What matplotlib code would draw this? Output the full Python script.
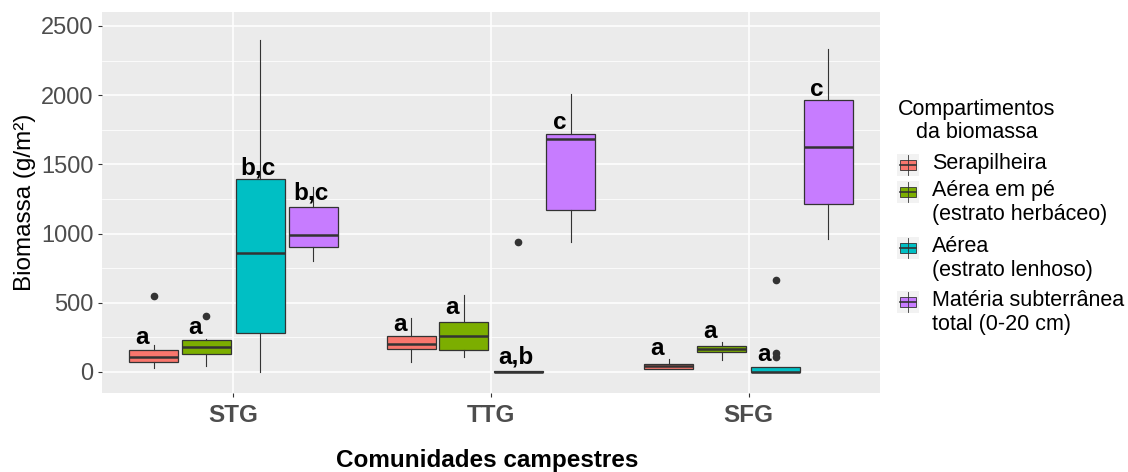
import numpy as np
import matplotlib
matplotlib.use("Agg")
import matplotlib.pyplot as plt
from matplotlib.patches import Rectangle

plt.rcParams['font.family'] = ['Liberation Sans', 'DejaVu Sans']

groups = ["STG", "TTG", "SFG"]
compartments = ["Serapilheira", "Aérea em pé\n(estrato herbáceo)",
                "Aérea\n(estrato lenhoso)", "Matéria subterrânea\ntotal (0-20 cm)"]
colors = ["#F8766D", "#7CAE00", "#00BFC4", "#C77CFF"]

# one row per compartment, columns STG, TTG, SFG
med = [[106, 200, 41], [178, 262, 164], [857, 2, 3], [990, 1681, 1628]]
q1 = [[70, 168, 24], [128, 159, 145], [279, 0, 0], [903, 1171, 1214]]
q3 = [[159, 260, 58], [229, 364, 190], [1394, 8, 34], [1195, 1720, 1965]]
whislo = [[27, 75, 20], [46, 111, 87], [0, 0, 0], [802, 937, 961]]
whishi = [[195, 388, 94], [236, 554, 215], [2399, 8, 34], [1339, 2011, 2336]]
fliers = [[[551], [], []], [[402], [], []], [[], [942], [663, 140, 110]], [[], [], []]]
letters = [["a", "a", "a"], ["a", "a", "a"], ["b,c", "a,b", "a"], ["b,c", "c", "c"]]
letter_y = [[246, 340, 171], [318, 465, 291], [1474, 111, 123], [1295, 1804, 2043]]

W, H = 1128, 472
fig = plt.figure(figsize=(W / 100, H / 100), dpi=100)
ax = fig.add_axes([102 / W, (H - 393) / H, (880 - 102) / W, (393 - 12) / H])
ax.set_facecolor("#EBEBEB")
for s in ax.spines.values():
    s.set_visible(False)

offsets = [-0.31, -0.105, 0.105, 0.31]
edge = "#333333"
for j in range(4):
    stats = []
    for i in range(3):
        stats.append(dict(med=med[j][i], q1=q1[j][i], q3=q3[j][i],
                          whislo=whislo[j][i], whishi=whishi[j][i],
                          fliers=fliers[j][i], label=""))
    pos = [i + 1 + offsets[j] for i in range(3)]
    ax.bxp(stats, positions=pos, widths=0.19, patch_artist=True, showcaps=False,
           boxprops=dict(facecolor=colors[j], edgecolor=edge, linewidth=0.9),
           whiskerprops=dict(color=edge, linewidth=0.8),
           medianprops=dict(color=edge, linewidth=1.8),
           flierprops=dict(marker="o", markerfacecolor=edge, markeredgecolor=edge,
                           markersize=4.5),
           manage_ticks=False, zorder=3)
    for i in range(3):
        lab = letters[j][i]
        dx = -0.045 if len(lab) == 1 else -0.01
        ax.text(i + 1 + offsets[j] + dx, letter_y[j][i], lab, ha="center", va="center",
                fontsize=17.5, fontweight="bold", color="black", zorder=4)

ax.set_xlim(0.49, 3.51)
ax.set_ylim(-152, 2601)
ax.set_xticks([1, 2, 3])
ax.set_xticklabels(groups, fontsize=17.5, fontweight="bold", color="#4D4D4D")
ax.set_yticks(np.arange(0, 2501, 500))
ax.set_yticklabels([str(v) for v in range(0, 2501, 500)], fontsize=17, color="#4D4D4D")
ax.set_yticks(np.arange(250, 2500, 500), minor=True)
ax.tick_params(axis="both", which="major", length=3, color=edge, width=0.8, pad=3)
ax.tick_params(axis="x", which="major", pad=5)
ax.tick_params(axis="y", which="minor", length=0)
ax.grid(which="major", color="white", linewidth=1.1)
ax.grid(which="minor", axis="y", color="white", linewidth=0.55)
ax.set_axisbelow(True)

fig.text(487 / W, 1 - 461 / H, "Comunidades campestres", ha="center", va="center",
         fontsize=17.5, fontweight="bold")
fig.text(25 / W, 1 - 202 / H, "Biomassa (g/m²)", ha="center", va="center",
         rotation=90, fontsize=17.5)

# legend drawn in pixel space
lg = fig.add_axes([0, 0, 1, 1])
lg.set_xlim(0, W)
lg.set_ylim(H, 0)
lg.axis("off")
lg.text(977, 121, "Compartimentos\nda biomassa", ha="center", va="center",
        fontsize=15.5, multialignment="center", linespacing=1.15)
row_y = [165, 192, 248, 302]
for j, lab in enumerate(compartments):
    y = row_y[j]
    lg.add_patch(Rectangle((897, y - 11), 22, 22, facecolor="#F2F2F2", edgecolor="none"))
    lg.plot([908, 908], [y - 10, y + 10], color=edge, lw=0.6)
    lg.add_patch(Rectangle((900, y - 5), 16, 10, facecolor=colors[j], edgecolor=edge, lw=0.6))
    lg.plot([900, 916], [y, y], color=edge, lw=1.2)
    lg.text(932, y - 12, lab, ha="left", va="top", fontsize=15.5, linespacing=1.2)

fig.savefig("out.png", dpi=100)
